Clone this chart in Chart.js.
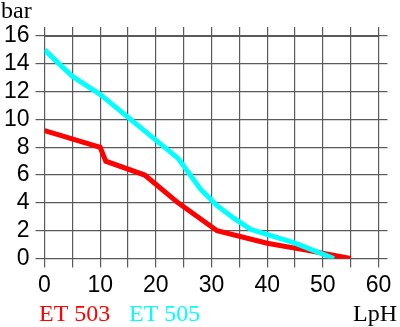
<!DOCTYPE html>
<html>
<head>
<meta charset="utf-8">
<script src="https://cdn.jsdelivr.net/npm/chart.js@4/dist/chart.umd.min.js"></script>
<style>
  html, body { margin: 0; padding: 0; background: #fff; }
  #wrap { width: 400px; height: 327px; position: relative; }
</style>
</head>
<body>
<div id="wrap"><canvas id="pumpChart"></canvas></div>
<script>
// flow (LpH) / pressure (bar)
const et503Flow = [0, 10, 11, 18, 24, 31, 40, 47, 55];
const et503Bar = [9.2, 8, 7, 6, 4, 2, 1.1, 0.6, 0];
const et505Flow = [0, 5, 10, 24, 28, 31, 34, 37, 45, 52];
const et505Bar = [15, 13.1, 11.8, 7.2, 5, 3.8, 2.9, 2.1, 1.1, 0];
const seriesNames = ['ET 503', 'ET 505'];
const xTicks = [0, 10, 20, 30, 40, 50, 60];
const yTicks = [0, 2, 4, 6, 8, 10, 12, 14, 16];

const toPoints = (xs, ys) => xs.map((x, i) => ({ x: x, y: ys[i] }));
const gridColor = '#5a5a5a';
const tickFont = { family: "'Liberation Sans', Arial, sans-serif", size: 23 };

// axis titles and series names in serif, like the original
const labelsPlugin = {
    id: 'labels',
    afterDraw(chart) {
        const c = chart.ctx;
        c.save();
        c.font = "24px 'Liberation Serif', 'Times New Roman', serif";
        c.textBaseline = 'alphabetic';
        c.fillStyle = '#000';
        c.fillText('bar', 1, 18);
        c.fillText('LpH', 353, 321);
        c.fillStyle = '#ff0000';
        c.fillText(seriesNames[0], 39, 321);
        c.fillStyle = '#00ffff';
        c.fillText(seriesNames[1], 129, 321);
        c.restore();
    }
};

const gridOpts = extra => Object.assign({ color: gridColor, lineWidth: 1.2, tickLength: 9 }, extra);

new Chart(document.getElementById('pumpChart'), {
    type: 'line',
    data: {
        datasets: [{
            label: seriesNames[0],
            data: toPoints(et503Flow, et503Bar),
            borderColor: '#ff0000',
            borderWidth: 5,
            pointRadius: 0,
            tension: 0,
            order: 1
        }, {
            label: seriesNames[1],
            data: toPoints(et505Flow, et505Bar),
            borderColor: '#00ffff',
            borderWidth: 5,
            pointRadius: 0,
            tension: 0,
            order: 0
        }]
    },
    options: {
        responsive: true,
        maintainAspectRatio: false,
        animation: false,
        layout: { padding: 0 },
        plugins: {
            legend: { display: false },
            tooltip: { enabled: false }
        },
        scales: {
            x: {
                type: 'linear',
                position: 'bottom',
                min: 0,
                max: 60,
                ticks: {
                    stepSize: 5,
                    autoSkip: false,
                    color: '#000',
                    font: tickFont,
                    padding: 4,
                    maxRotation: 0,
                    callback: v => xTicks.includes(v) ? String(v) : ''
                },
                grid: gridOpts(),
                border: { color: gridColor },
                afterFit: s => { s.height = 68.5; }
            },
            xTop: {
                type: 'linear',
                position: 'top',
                min: 0,
                max: 60,
                ticks: { stepSize: 5, autoSkip: false, display: false },
                grid: gridOpts({ drawOnChartArea: false }),
                border: { color: gridColor },
                afterFit: s => { s.height = 36; }
            },
            y: {
                position: 'left',
                min: 0,
                max: 16,
                ticks: {
                    stepSize: 2,
                    autoSkip: false,
                    color: '#000',
                    font: tickFont,
                    padding: 6,
                    callback: v => yTicks.includes(v) ? String(v) : ''
                },
                grid: gridOpts(),
                border: { color: gridColor },
                afterFit: s => { s.width = 44.5; }
            },
            yRight: {
                position: 'right',
                min: 0,
                max: 16,
                ticks: { stepSize: 2, autoSkip: false, display: false },
                grid: gridOpts({ drawOnChartArea: false }),
                border: { color: gridColor },
                afterFit: s => { s.width = 21.5; }
            }
        }
    },
    plugins: [labelsPlugin]
});
</script>
</body>
</html>
